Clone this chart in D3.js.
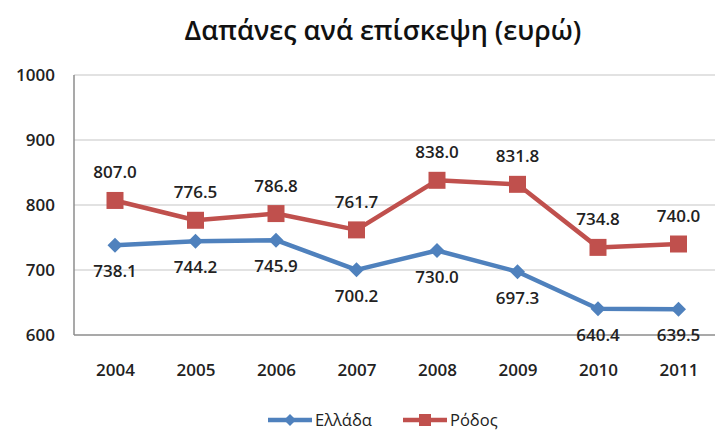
<!DOCTYPE html>
<html>
<head>
<meta charset="utf-8">
<script src="https://cdn.jsdelivr.net/npm/d3@7"></script>
<style>
  body { margin: 0; background: #fff; }
  text { font-family: "Open Sans", "Noto Sans", sans-serif; }
</style>
</head>
<body>
<div id="chart"></div>
<script>
var years = ["2004", "2005", "2006", "2007", "2008", "2009", "2010", "2011"];
var ellada = [738.1, 744.2, 745.9, 700.2, 730.0, 697.3, 640.4, 639.5];
var rodos = [807.0, 776.5, 786.8, 761.7, 838.0, 831.8, 734.8, 740.0];
var yTicks = [600, 700, 800, 900, 1000];

var width = 715, height = 432;
var plot = { left: 74, right: 715, top: 75, bottom: 335 };

var svg = d3.select("#chart").append("svg")
  .attr("width", width)
  .attr("height", height);

// category axis: 8 bands, points in the band centres (plot is cut on the right)
var x = d3.scalePoint()
  .domain(years)
  .range([115, 678.5]);

var y = d3.scaleLinear()
  .domain([600, 1000])
  .range([plot.bottom, plot.top]);

// title
svg.append("text")
  .attr("x", 383)
  .attr("y", 40)
  .attr("text-anchor", "middle")
  .attr("font-size", 27)
  .attr("font-weight", 600)
  .attr("fill", "#111")
  .text("Δαπάνες ανά επίσκεψη (ευρώ)");

// gridlines
svg.append("g").selectAll("line")
  .data(yTicks)
  .enter()
  .append("line")
  .attr("x1", plot.left)
  .attr("x2", plot.right)
  .attr("y1", function(d){ return y(d); })
  .attr("y2", function(d){ return y(d); })
  .attr("stroke", function(d){ return d == 600 ? "#8c8c8c" : "#d9d9d9"; })
  .attr("stroke-width", 1.5);

svg.append("line")
  .attr("x1", plot.left).attr("x2", plot.left)
  .attr("y1", plot.top).attr("y2", plot.bottom)
  .attr("stroke", "#8c8c8c")
  .attr("stroke-width", 1.5);

// y axis labels
var yAxis = d3.axisLeft(y).tickValues(yTicks).tickFormat(d3.format("d")).tickSize(0).tickPadding(19);
var gy = svg.append("g")
  .attr("transform", "translate(" + plot.left + ",0)")
  .call(yAxis);
gy.select(".domain").remove();
gy.selectAll("text")
  .attr("font-size", 17)
  .attr("font-weight", 600)
  .attr("fill", "#222")
  .attr("font-family", "Open Sans, sans-serif");

// x axis labels
var xAxis = d3.axisBottom(x).tickSize(0).tickPadding(29);
var gx = svg.append("g")
  .attr("transform", "translate(0," + plot.bottom + ")")
  .call(xAxis);
gx.select(".domain").remove();
gx.selectAll("text")
  .attr("font-size", 17)
  .attr("font-weight", 600)
  .attr("fill", "#222")
  .attr("font-family", "Open Sans, sans-serif");

var series = [
  { name: "Ελλάδα", values: ellada, color: "#4F81BD", marker: "diamond", dy: 32 },
  { name: "Ρόδος", values: rodos, color: "#C0504D", marker: "square", dy: -22 }
];

var line = d3.line()
  .x(function(d, i){ return x(years[i]); })
  .y(function(d){ return y(d); });

function markerPath(type, r) {
  if (type == "square") return "M" + (-r) + "," + (-r) + "h" + (2 * r) + "v" + (2 * r) + "h" + (-2 * r) + "Z";
  return "M0," + (-r) + "L" + r + ",0L0," + r + "L" + (-r) + ",0Z";
}

series.forEach(function(s) {
  var g = svg.append("g");
  g.append("path")
    .attr("d", line(s.values))
    .attr("fill", "none")
    .attr("stroke", s.color)
    .attr("stroke-width", 4.5)
    .attr("stroke-linejoin", "round");

  g.selectAll(".pt")
    .data(s.values)
    .enter()
    .append("path")
    .attr("class", "pt")
    .attr("d", markerPath(s.marker, s.marker == "square" ? 8.5 : 7.5))
    .attr("transform", function(d, i){
      return "translate(" + x(years[i]) + "," + y(d) + ")";
    })
    .attr("fill", s.color);

  g.selectAll(".lbl")
    .data(s.values)
    .enter()
    .append("text")
    .attr("class", "lbl")
    .attr("x", function(d, i){ return x(years[i]); })
    .attr("y", function(d){ return y(d) + s.dy; })
    .attr("text-anchor", "middle")
    .attr("font-size", 17)
    .attr("font-weight", 600)
    .attr("fill", "#222")
    .text(function(d){ return d.toFixed(1); });
});

// legend
var legend = svg.append("g").attr("transform", "translate(268,420)");
var legendItems = [
  { x: 0, s: series[0] },
  { x: 135, s: series[1] }
];
legendItems.forEach(function(it) {
  var lg = legend.append("g").attr("transform", "translate(" + it.x + ",0)");
  lg.append("line")
    .attr("x1", 0).attr("x2", 44)
    .attr("y1", 0).attr("y2", 0)
    .attr("stroke", it.s.color)
    .attr("stroke-width", 4.5);
  lg.append("path")
    .attr("d", markerPath(it.s.marker, 6))
    .attr("transform", "translate(22,0)")
    .attr("fill", it.s.color);
  lg.append("text")
    .attr("x", 47)
    .attr("y", 6)
    .attr("font-size", 16.5)
    .attr("fill", "#222")
    .text(it.s.name);
});
</script>
</body>
</html>
